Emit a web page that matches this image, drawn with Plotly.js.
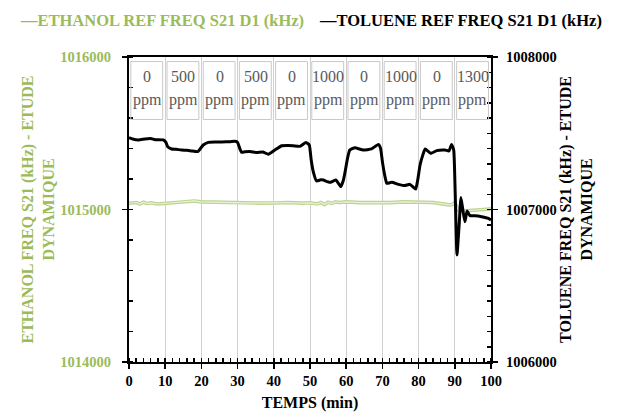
<!DOCTYPE html>
<html><head><meta charset="utf-8">
<script src="https://cdn.plot.ly/plotly-3.0.1.min.js"></script>
<style>html,body{margin:0;padding:0;background:#fff;}#chart{width:619px;height:415px;}</style>
</head><body><div id="chart"></div>
<script>
// ---- data ----
const toluTime = [0,1,2.6,4.4,6,7.2,9.5,10.2,10.7,11.8,13,14.5,16,17.3,19,19.6,20.5,21.9,24,25.6,28,29.3,30,30.6,31.1,32,33.4,35.3,37,38.5,40.3,42.2,44,45.4,47.2,48.9,49.8,50.3,50.9,51.8,53,53.7,55.5,57.2,58.5,59.2,59.7,60.4,61,62.4,64.7,67,68.9,69.5,70,70.6,71.2,72.6,74.4,76.2,77.6,79.2,79.8,80.4,81.2,81.8,83.4,85,87.3,88.4,89.1,89.7,90.1,90.6,91.2,91.7,92.3,92.8,93.4,94.2,95.6,97.4,99.3,100];
const toluFreq = [1007471,1007462,1007456,1007462,1007465,1007458,1007456,1007440,1007412,1007397,1007395,1007390,1007388,1007384,1007380,1007395,1007423,1007440,1007442,1007443,1007445,1007447,1007440,1007400,1007375,1007378,1007380,1007373,1007377,1007362,1007390,1007418,1007420,1007418,1007414,1007440,1007423,1007330,1007248,1007187,1007195,1007193,1007178,1007193,1007150,1007190,1007248,1007340,1007390,1007405,1007390,1007397,1007427,1007400,1007314,1007230,1007172,1007178,1007165,1007157,1007165,1007134,1007200,1007292,1007360,1007397,1007368,1007386,1007390,1007384,1007427,1007390,1007117,1006702,1006898,1007078,1006986,1006920,1006990,1006959,1006959,1006953,1006942,1006931];
const ethTime = [0,2,3,4,5,6,8,10,12,14,16,18,20,24,28,32,36,40,44,48,50,52,53,54,55,56,57,58,60,64,68,72,76,80,84,88,89,90,90.5,91,92,94,96,98,100];
const ethFreq = [1015041,1015046,1015036,1015048,1015040,1015044,1015036,1015040,1015045,1015048,1015052,1015056,1015050,1015047,1015044,1015045,1015042,1015043,1015046,1015042,1015044,1015036,1015046,1015032,1015047,1015040,1015050,1015046,1015050,1015045,1015043,1015045,1015050,1015048,1015046,1015032,1015030,1015045,1015020,1014995,1014990,1014992,1014996,1015000,1015004];
const stepStarts = [0,10,20,30,40,50,60,70,80,90];
const stepConc = ['0','500','0','500','0','1000','0','1000','0','1300'];
const xTicks = [0,10,20,30,40,50,60,70,80,90,100];
const leftTicks = [1014000,1015000,1016000];
const rightTicks = [1006000,1007000,1008000];
const ethName = 'ETHANOL REF FREQ S21 D1 (kHz)';
const toluName = 'TOLUENE REF FREQ S21 D1 (kHz)';

const GREEN = '#9bbb59';
const FONT = "'Liberation Serif', 'DejaVu Serif', serif";

const traces = [
  {x: ethTime, y: ethFreq, type:'scatter', mode:'lines', name: ethName, yaxis:'y',
   line:{color:'#bcd48f', width:3.6}, showlegend:false, hoverinfo:'skip'},
  {x: ethTime, y: ethFreq, type:'scatter', mode:'lines', name: ethName, yaxis:'y',
   line:{color:'#eaf2dc', width:1.2}, showlegend:false},
  {x: toluTime, y: toluFreq, type:'scatter', mode:'lines', name: toluName, yaxis:'y2',
   line:{color:'#000000', width:3, shape:'spline', smoothing:0.4}, showlegend:false}
];

const shapes = [];
const annotations = [];
stepStarts.forEach((s, i) => {
  const mid = s + 5;
  shapes.push({type:'rect', xref:'x', yref:'paper', x0: s + 0.5, x1: s + 9.3,
    y0: 0.795, y1: 0.985, line:{color:'#c8c8c8', width:1}, fillcolor:'rgba(0,0,0,0)', layer:'above'});
  annotations.push({x: mid, xref:'x', y: 0.935, yref:'paper', text: stepConc[i], showarrow:false,
    font:{family: FONT, size:16, color:'#595959'}, xanchor:'center', yanchor:'middle'});
  annotations.push({x: mid, xref:'x', y: 0.86, yref:'paper', text: 'ppm', showarrow:false,
    font:{family: FONT, size:16, color:'#595959'}, xanchor:'center', yanchor:'middle'});
});
// legend as text
annotations.push({xref:'paper', yref:'paper', x:-0.308, y:1.121, xanchor:'left', yanchor:'middle',
  text:'<b>—' + ethName + '</b>', showarrow:false, font:{family: FONT, size:16.5, color: GREEN}});
annotations.push({xref:'paper', yref:'paper', x:0.52, y:1.121, xanchor:'left', yanchor:'middle',
  text:'<b>—' + toluName + '</b>', showarrow:false, font:{family: FONT, size:16.5, color:'#000'}});

const layout = {
  width:619, height:415,
  margin:{l:129, r:128, t:57, b:53},
  paper_bgcolor:'#fff', plot_bgcolor:'#fff',
  font:{family: FONT, size:13, color:'#000'},
  showlegend:false,
  xaxis:{range:[0,100], tickvals:xTicks, ticktext:xTicks.map(String),
    showgrid:true, gridcolor:'#d0d0d0', gridwidth:1, zeroline:false,
    showline:true, linecolor:'#000', linewidth:2, mirror:true,
    ticks:'outside', ticklen:5, tickcolor:'#000', tickwidth:1.5,
    minor:{dtick:2, ticks:'inside', ticklen:4, tickcolor:'#000', showgrid:false},
    tickfont:{family: FONT, size:14.5, color:'#000', weight:'bold'},
    title:{text:'<b>TEMPS (min)</b>', font:{family: FONT, size:16, color:'#000'}, standoff:8}},
  yaxis:{range:[1014000,1016000], tickvals:leftTicks, ticktext:leftTicks.map(String),
    showgrid:false, zeroline:false, showline:true, linecolor:'#000', linewidth:2,
    ticks:'outside', ticklen:5, tickcolor:'#000', tickwidth:1.5, ticklabelstandoff:8,
    minor:{dtick:200, ticks:'inside', ticklen:4, tickcolor:'#000'},
    tickfont:{family: FONT, size:14.5, color: GREEN, weight:'bold'},
    title:{text:'<b>ETHANOL FREQ S21 (kHz) - ETUDE<br>DYNAMIQUE</b>', font:{family: FONT, size:16, color: GREEN}, standoff:2}},
  yaxis2:{range:[1006000,1008000], overlaying:'y', side:'right', tickvals:rightTicks, ticktext:rightTicks.map(String),
    showgrid:false, zeroline:false, showline:true, linecolor:'#000', linewidth:2,
    ticks:'outside', ticklen:5, tickcolor:'#000', tickwidth:1.5, ticklabelstandoff:5,
    minor:{dtick:100, ticks:'inside', ticklen:4, tickcolor:'#000'},
    tickfont:{family: FONT, size:14.5, color:'#000', weight:'bold'},
    title:{text:'<b>TOLUENE FREQ S21 (kHz) - ETUDE<br>DYNAMIQUE</b>', font:{family: FONT, size:16, color:'#000'}, standoff:4}},
  shapes: shapes,
  annotations: annotations
};
Plotly.newPlot('chart', traces, layout, {displayModeBar:false, staticPlot:true});
</script></body></html>
